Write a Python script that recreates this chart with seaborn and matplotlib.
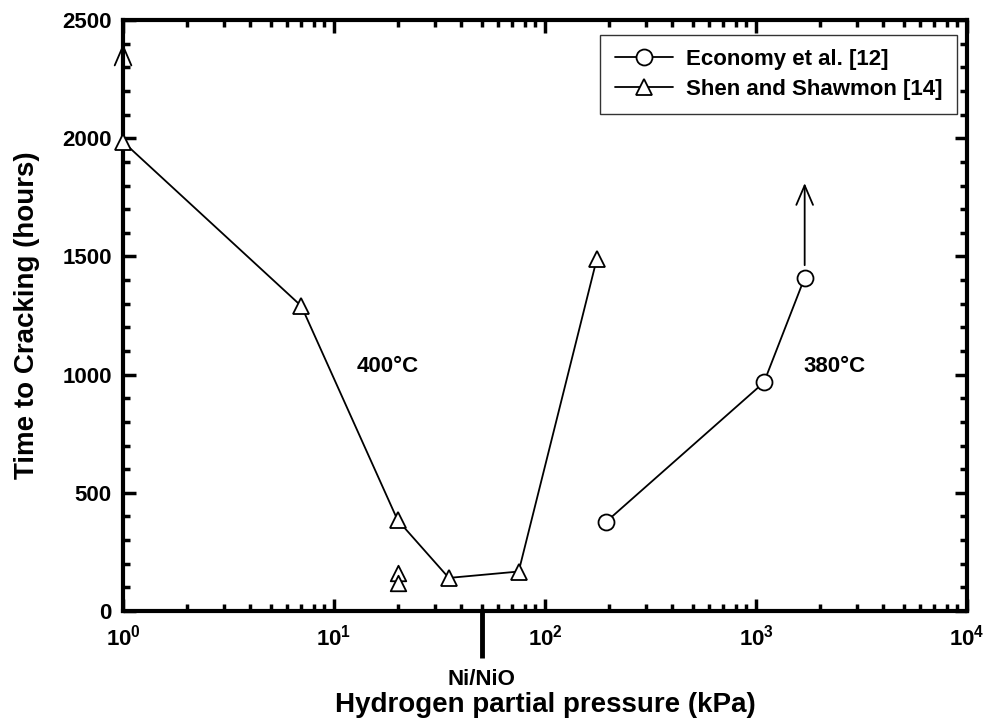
import numpy as np
import pandas as pd
import matplotlib
matplotlib.use("Agg")
import matplotlib.pyplot as plt
import seaborn as sns
from matplotlib.ticker import LogLocator, MultipleLocator, FixedLocator, NullFormatter

# ---- data ----
shen_p = [1, 7, 20, 35, 75, 176]
shen_t = [1985, 1290, 385, 140, 167, 1490]
shen_extra_p = [20, 20]
shen_extra_t = [162, 120]
econ_p = [194, 1090, 1700]
econ_t = [376, 967, 1410]
shen_arrow = (1, 1985, 2400)
econ_arrow = (1700, 1410, 1810)
ni_nio_p = 50
x_ticks = [1, 10, 100, 1000, 10000]
x_labels = ["10$^0$", "10$^1$", "10$^2$", "10$^3$", "10$^4$"]
y_ticks = [0, 500, 1000, 1500, 2000, 2500]

sns.set_theme(style="white")
plt.rcParams['font.family'] = ['Liberation Sans', 'DejaVu Sans']
plt.rcParams['font.weight'] = 'bold'
plt.rcParams['mathtext.fontset'] = 'custom'
plt.rcParams['mathtext.rm'] = 'Liberation Sans:bold'
plt.rcParams['mathtext.bf'] = 'Liberation Sans:bold'
plt.rcParams['mathtext.it'] = 'Liberation Sans:bold'
for k in ['text.color', 'axes.labelcolor', 'xtick.color', 'ytick.color']:
    plt.rcParams[k] = 'black'

fig = plt.figure(figsize=(9.89, 7.23), dpi=100)
ax = fig.add_axes([0.1244, 0.1549, 0.8534, 0.8174])

mk = dict(markersize=11.5, markerfacecolor='white', markeredgecolor='black',
          markeredgewidth=1.3, color='black', linewidth=1.3)

sns.lineplot(x=econ_p, y=econ_t, ax=ax, marker='o', sort=False,
             label='Economy et al. [12]', clip_on=False, zorder=5, **mk)
sns.lineplot(x=shen_p, y=shen_t, ax=ax, marker='^', sort=False,
             label='Shen and Shawmon [14]', clip_on=False, zorder=5, **mk)
sns.scatterplot(x=shen_extra_p, y=shen_extra_t, ax=ax, marker='^', s=125,
                facecolor='white', edgecolor='black', linewidth=1.3, zorder=5)

arw = dict(arrowstyle='->,head_length=0.7,head_width=0.3', lw=1.3, color='black',
           shrinkA=9, shrinkB=0, mutation_scale=20)
ax.annotate('', xy=(shen_arrow[0], shen_arrow[2]), xytext=(shen_arrow[0], shen_arrow[1]),
            arrowprops=arw, annotation_clip=False, zorder=6)
ax.annotate('', xy=(econ_arrow[0], econ_arrow[2]), xytext=(econ_arrow[0], econ_arrow[1]),
            arrowprops=arw, annotation_clip=False, zorder=6)

ax.set_xscale('log')
ax.set_xlim(1, 10000)
ax.set_ylim(0, 2500)

ax.xaxis.set_major_locator(FixedLocator(x_ticks))
ax.set_xticklabels(x_labels)
ax.xaxis.set_minor_locator(LogLocator(base=10, subs=np.arange(2, 10), numticks=20))
ax.xaxis.set_minor_formatter(NullFormatter())
ax.yaxis.set_major_locator(FixedLocator(y_ticks))
ax.set_yticklabels([str(v) for v in y_ticks])
ax.yaxis.set_minor_locator(MultipleLocator(100))

ax.tick_params(which='both', direction='in', top=True, right=True, bottom=True, left=True,
               width=2.5, color='black', labelsize=16)
ax.tick_params(axis='x', pad=10)
ax.tick_params(axis='y', pad=8)
ax.tick_params(which='major', length=9)
ax.tick_params(which='minor', length=5)
for lab in ax.get_xticklabels() + ax.get_yticklabels():
    lab.set_fontweight('bold')

for s in ax.spines.values():
    s.set_linewidth(3)
    s.set_color('black')
    s.set_visible(True)

ax.set_xlabel('Hydrogen partial pressure (kPa)', fontsize=20, fontweight='bold', labelpad=30)
ax.set_ylabel('Time to Cracking (hours)', fontsize=20, fontweight='bold', labelpad=16)

# Ni/NiO marker below axis
ax.plot([ni_nio_p, ni_nio_p], [0, -199], color='black', lw=3.5, clip_on=False,
        solid_capstyle='butt')
ax.text(ni_nio_p, -245, 'Ni/NiO', ha='center', va='top', fontsize=16, fontweight='bold')

ax.text(18, 1036, '400°C', ha='center', va='center', fontsize=16, fontweight='bold')
ax.text(2350, 1036, '380°C', ha='center', va='center', fontsize=16, fontweight='bold')

leg = ax.legend(loc='upper right', bbox_to_anchor=(0.988, 0.975), borderaxespad=0,
                fontsize=16, frameon=True, fancybox=False, edgecolor='black',
                borderpad=0.65, labelspacing=0.38, handlelength=2.6, handletextpad=0.6)
leg.get_frame().set_linewidth(1.0)
for t in leg.get_texts():
    t.set_fontweight('bold')

fig.savefig('out.png', dpi=100)
